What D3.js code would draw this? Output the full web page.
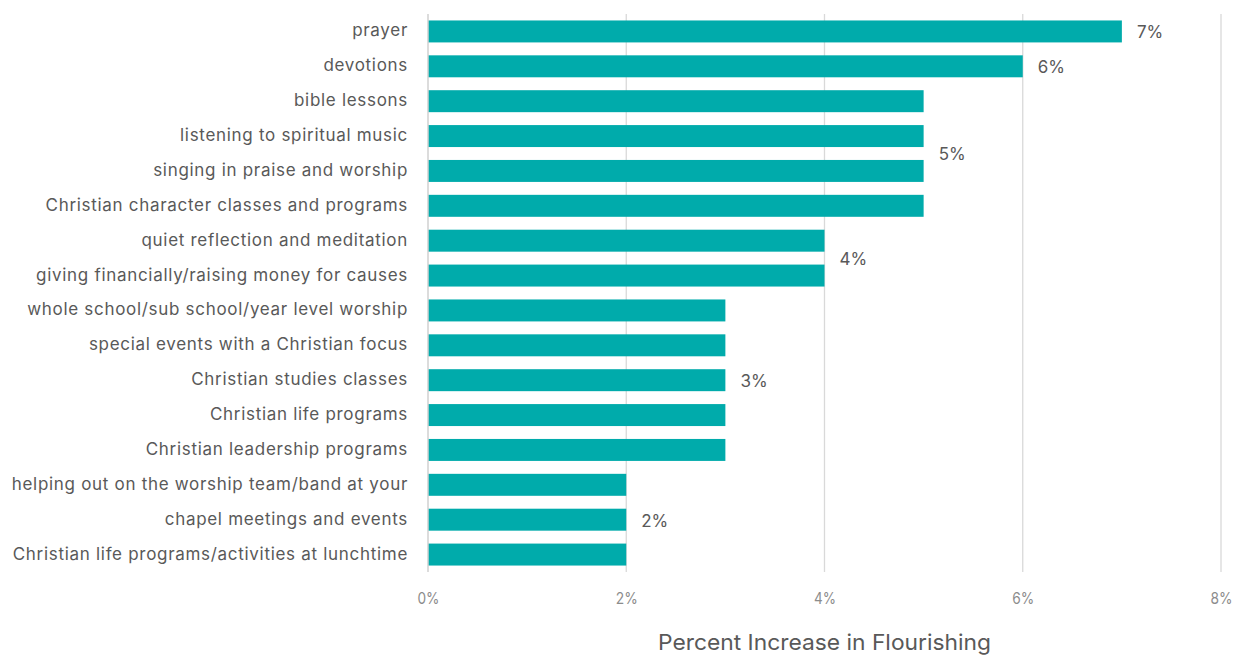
<!DOCTYPE html>
<html>
<head>
<meta charset="utf-8">
<script src="https://cdn.jsdelivr.net/npm/d3@7"></script>
<style>
  html, body { margin: 0; padding: 0; background: #fff; }
  svg { display: block; font-family: "Inter", "Noto Sans", sans-serif; }
</style>
</head>
<body>
<svg id="chart" width="1237" height="655"></svg>
<script>
// Activities and the percent increase in flourishing associated with each
const categories = [
  "prayer",
  "devotions",
  "bible lessons",
  "listening to spiritual music",
  "singing in praise and worship",
  "Christian character classes and programs",
  "quiet reflection and meditation",
  "giving financially/raising money for causes",
  "whole school/sub school/year level worship",
  "special events with a Christian focus",
  "Christian studies classes",
  "Christian life programs",
  "Christian leadership programs",
  "helping out on the worship team/band at your ",
  "chapel meetings and events",
  "Christian life programs/activities at lunchtime"
];
const values = [7, 6, 5, 5, 5, 5, 4, 4, 3, 3, 3, 3, 3, 2, 2, 2];

// Value labels are shared by each run of equal bars
const valueLabels = [
  { text: "7%", value: 7, first: 0, last: 0 },
  { text: "6%", value: 6, first: 1, last: 1 },
  { text: "5%", value: 5, first: 2, last: 5 },
  { text: "4%", value: 4, first: 6, last: 7 },
  { text: "3%", value: 3, first: 8, last: 12 },
  { text: "2%", value: 2, first: 13, last: 15 }
];

const tickValues = [0, 2, 4, 6, 8];
const axisTitle = "Percent Increase in Flourishing";

const svg = d3.select("#chart");
const margin = { top: 14, left: 428, right: 16, bottom: 83 };
const width = 1237, height = 655;

const x = d3.scaleLinear()
  .domain([0, 8])
  .range([margin.left, width - margin.right]);

const y = d3.scaleBand()
  .domain(categories)
  .range([margin.top, height - margin.bottom])
  .paddingInner(0.37)
  .paddingOuter(0.185);

// vertical gridlines
svg.append("g")
  .selectAll("line")
  .data(tickValues.filter(d => d > 0))
  .join("line")
  .attr("x1", d => x(d)).attr("x2", d => x(d))
  .attr("y1", margin.top).attr("y2", height - margin.bottom)
  .attr("stroke", "#d9d9d9")
  .attr("stroke-width", 1.3);

// bars
svg.append("g")
  .selectAll("rect")
  .data(values)
  .join("rect")
  .attr("x", x(0))
  .attr("y", (d, i) => y(categories[i]))
  .attr("width", d => x(d) - x(0))
  .attr("height", y.bandwidth())
  .attr("fill", "#00abab");

// category axis line
svg.append("line")
  .attr("x1", x(0)).attr("x2", x(0))
  .attr("y1", margin.top).attr("y2", height - margin.bottom)
  .attr("stroke", "#d0d0d0")
  .attr("stroke-width", 1.5);

// category labels
svg.append("g")
  .selectAll("text")
  .data(categories)
  .join("text")
  .attr("x", x(0) - 20)
  .attr("y", d => y(d) + y.bandwidth() / 2 - 1)
  .attr("dy", "0.35em")
  .attr("text-anchor", "end")
  .attr("font-size", 17)
  .attr("letter-spacing", 0.7)
  .attr("fill", "#595959")
  .text(d => d);

// value labels
svg.append("g")
  .selectAll("text")
  .data(valueLabels)
  .join("text")
  .attr("x", d => x(d.value) + 15)
  .attr("y", d => (y(categories[d.first]) + y(categories[d.last]) + y.bandwidth()) / 2 + 1)
  .attr("dy", "0.35em")
  .attr("font-size", 17)
  .attr("fill", "#595959")
  .text(d => d.text);

// x axis tick labels
const xAxis = d3.axisBottom(x)
  .tickValues(tickValues)
  .tickFormat(d => d + "%")
  .tickSize(0)
  .tickPadding(0);

const axisG = svg.append("g")
  .attr("transform", `translate(0,${height - margin.bottom + 21})`)
  .call(xAxis);
axisG.select(".domain").remove();
axisG.selectAll("text")
  .attr("font-size", 16)
  .attr("font-family", "Inter, sans-serif")
  .attr("fill", "#8c8c8c")
  .attr("textLength", 22)
  .attr("lengthAdjust", "spacingAndGlyphs");

// axis title
svg.append("text")
  .attr("x", (x(0) + x(8)) / 2)
  .attr("y", 650)
  .attr("text-anchor", "middle")
  .attr("font-size", 22)
  .attr("fill", "#595959")
  .attr("textLength", 333)
  .attr("lengthAdjust", "spacingAndGlyphs")
  .text(axisTitle);
</script>
</body>
</html>
